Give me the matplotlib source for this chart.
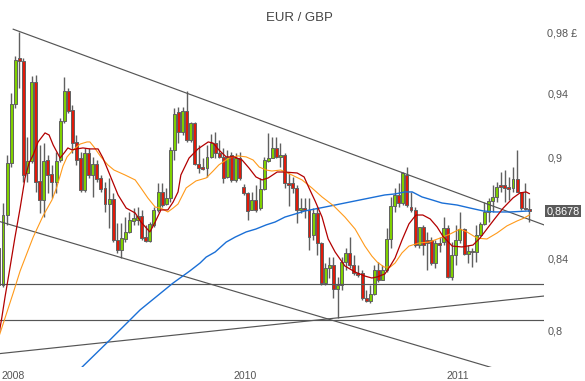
import numpy as np
import matplotlib
matplotlib.use('Agg')
import matplotlib.pyplot as plt
import matplotlib.transforms as mtransforms

plt.rcParams['font.family'] = ['Liberation Sans', 'DejaVu Sans']

# Weekly candles, EUR/GBP (index 0 = first, partly hidden, week)
opens = [0.8463, 0.8253, 0.8655, 0.8967, 0.9334, 0.9631, 0.9612, 0.8906, 0.8979, 0.9475,
         0.8858, 0.8744, 0.8985, 0.8900, 0.8852, 0.8985, 0.9227, 0.9417, 0.9296, 0.9096,
         0.8997, 0.8804, 0.9028, 0.8894, 0.8961, 0.8876, 0.8816, 0.8720, 0.8750, 0.8509,
         0.8452, 0.8515, 0.8556, 0.8620, 0.8626, 0.8649, 0.8526, 0.8503, 0.8597, 0.8685,
         0.8792, 0.8720, 0.8756, 0.9047, 0.9284, 0.9158, 0.9290, 0.9108, 0.9214, 0.8961,
         0.8942, 0.8936, 0.9004, 0.9089, 0.9028, 0.9004, 0.8882, 0.9016, 0.8864, 0.8997,
         0.8822, 0.8786, 0.8685, 0.8744, 0.8697, 0.8810, 0.8979, 0.8997, 0.9059, 0.9004,
         0.9016, 0.8846, 0.8846, 0.8816, 0.8685, 0.8696, 0.8685, 0.8538, 0.8667, 0.8492,
         0.8264, 0.8349, 0.8366, 0.8231, 0.8253, 0.8383, 0.8435, 0.8366, 0.8320, 0.8320,
         0.8180, 0.8163, 0.8203, 0.8337, 0.8281, 0.8337, 0.8515, 0.8708, 0.8774, 0.8726,
         0.8894, 0.8702, 0.8685, 0.8480, 0.8585, 0.8509, 0.8509, 0.8377, 0.8492, 0.8497,
         0.8579, 0.8298, 0.8423, 0.8509, 0.8573, 0.8429, 0.8446, 0.8440, 0.8538, 0.8603,
         0.8673, 0.8738, 0.8762, 0.8834, 0.8834, 0.8822, 0.8816, 0.8870, 0.8792, 0.8696,
         0.8690]
highs = [0.8463, 0.8726, 0.9016, 0.9404, 0.9644, 0.9803, 0.9631, 0.9127, 0.9514, 0.9520,
         0.9077, 0.9089, 0.9016, 0.8955, 0.9035, 0.9246, 0.9507, 0.9437, 0.9328, 0.9139,
         0.9035, 0.9059, 0.9059, 0.9004, 0.8985, 0.8894, 0.8852, 0.8876, 0.8786, 0.8609,
         0.8609, 0.8643, 0.8673, 0.8696, 0.8702, 0.8685, 0.8597, 0.8614, 0.8702, 0.8846,
         0.8846, 0.8816, 0.9065, 0.9309, 0.9315, 0.9315, 0.9417, 0.9221, 0.9221, 0.9077,
         0.8997, 0.9077, 0.9146, 0.9158, 0.9108, 0.9059, 0.9047, 0.9035, 0.9028, 0.9035,
         0.8840, 0.8792, 0.8792, 0.8834, 0.8876, 0.9004, 0.9152, 0.9127, 0.9127, 0.9089,
         0.9028, 0.8906, 0.8882, 0.8834, 0.8756, 0.8756, 0.8756, 0.8696, 0.8702, 0.8497,
         0.8377, 0.8411, 0.8411, 0.8298, 0.8411, 0.8463, 0.8526, 0.8423, 0.8366, 0.8337,
         0.8225, 0.8253, 0.8366, 0.8383, 0.8366, 0.8579, 0.8762, 0.8816, 0.8846, 0.8912,
         0.8942, 0.8792, 0.8702, 0.8585, 0.8597, 0.8556, 0.8526, 0.8509, 0.8526, 0.8643,
         0.8597, 0.8497, 0.8597, 0.8673, 0.8579, 0.8480, 0.8463, 0.8597, 0.8614, 0.8732,
         0.8756, 0.8834, 0.8852, 0.8912, 0.8924, 0.8882, 0.8942, 0.9047, 0.8792, 0.8846,
         0.8756]
lows = [0.8242, 0.8242, 0.8597, 0.8942, 0.9309, 0.9437, 0.8852, 0.8852, 0.8967, 0.8792,
        0.8667, 0.8643, 0.8786, 0.8756, 0.8786, 0.8973, 0.9214, 0.9277, 0.9028, 0.8955,
        0.8792, 0.8792, 0.8876, 0.8762, 0.8852, 0.8792, 0.8673, 0.8579, 0.8497, 0.8435,
        0.8406, 0.8497, 0.8550, 0.8597, 0.8597, 0.8509, 0.8497, 0.8497, 0.8585, 0.8673,
        0.8702, 0.8714, 0.8732, 0.8985, 0.9089, 0.9139, 0.9096, 0.9096, 0.8955, 0.8906,
        0.8924, 0.8882, 0.8997, 0.8997, 0.8997, 0.8846, 0.8876, 0.8852, 0.8852, 0.8864,
        0.8774, 0.8626, 0.8685, 0.8673, 0.8685, 0.8804, 0.8973, 0.8997, 0.8997, 0.8942,
        0.8816, 0.8708, 0.8786, 0.8609, 0.8667, 0.8637, 0.8452, 0.8509, 0.8423, 0.8253,
        0.8253, 0.8292, 0.8180, 0.8070, 0.8225, 0.8337, 0.8349, 0.8309, 0.8298, 0.8169,
        0.8158, 0.8152, 0.8197, 0.8270, 0.8281, 0.8326, 0.8463, 0.8673, 0.8702, 0.8714,
        0.8702, 0.8673, 0.8469, 0.8463, 0.8423, 0.8337, 0.8366, 0.8349, 0.8440, 0.8480,
        0.8292, 0.8281, 0.8366, 0.8492, 0.8423, 0.8377, 0.8354, 0.8383, 0.8532, 0.8597,
        0.8614, 0.8673, 0.8732, 0.8792, 0.8732, 0.8744, 0.8792, 0.8792, 0.8685, 0.8685,
        0.8614]
closes = [0.8253, 0.8655, 0.8967, 0.9334, 0.9618, 0.9612, 0.8894, 0.8979, 0.9475, 0.8852,
          0.8744, 0.8979, 0.8894, 0.8852, 0.8979, 0.9227, 0.9417, 0.9290, 0.9089, 0.8985,
          0.8804, 0.9028, 0.8894, 0.8961, 0.8870, 0.8810, 0.8720, 0.8750, 0.8509, 0.8452,
          0.8520, 0.8556, 0.8626, 0.8637, 0.8649, 0.8520, 0.8503, 0.8603, 0.8685, 0.8792,
          0.8714, 0.8756, 0.9047, 0.9271, 0.9158, 0.9290, 0.9108, 0.9214, 0.8961, 0.8936,
          0.8930, 0.9004, 0.9089, 0.9028, 0.9004, 0.8876, 0.9004, 0.8864, 0.8997, 0.8876,
          0.8786, 0.8679, 0.8744, 0.8685, 0.8810, 0.8985, 0.8997, 0.9059, 0.9004, 0.9016,
          0.8846, 0.8834, 0.8816, 0.8685, 0.8696, 0.8685, 0.8526, 0.8667, 0.8492, 0.8264,
          0.8349, 0.8366, 0.8231, 0.8253, 0.8383, 0.8435, 0.8366, 0.8320, 0.8309, 0.8180,
          0.8163, 0.8203, 0.8337, 0.8281, 0.8337, 0.8515, 0.8708, 0.8774, 0.8726, 0.8906,
          0.8714, 0.8685, 0.8480, 0.8585, 0.8480, 0.8492, 0.8377, 0.8492, 0.8480, 0.8579,
          0.8298, 0.8423, 0.8509, 0.8573, 0.8429, 0.8446, 0.8440, 0.8538, 0.8603, 0.8673,
          0.8738, 0.8762, 0.8822, 0.8822, 0.8816, 0.8810, 0.8870, 0.8792, 0.8696, 0.8690,
          0.8678]

# Moving averages at (week index, price)
ma_short_x = [0, 0.7, 1.5, 2.7, 3.9, 5.2, 6.4, 7.4, 8.4, 9.6, 11.3, 12.3, 13.3, 15.0, 16.2, 16.9,
              17.9, 19.1, 20.6, 22.3, 24.3, 25.5, 27.2, 29.2, 31.2, 33.4, 34.8, 37.0, 38.3, 39.7,
              41.4, 42.7, 43.9, 44.6, 46.6, 48.8, 51.3, 52.5, 53.9, 55.7, 57.6, 59.6, 61.3, 63.0,
              64.5, 66.0, 68.2, 69.9, 73.1, 74.8, 76.0, 77.5, 79.2, 80.7, 82.4, 84.8, 87.3, 89.7,
              91.4, 92.7, 94.6, 95.9, 97.1, 98.8, 100.5, 102.2, 103.9, 105.7, 107.4, 108.8, 111.1,
              113.5, 116.2, 117.9, 119.6, 121.3, 123.6, 126.0, 127.7, 129.2, 130.0]
ma_short_y = [0.7980, 0.8070, 0.8186, 0.8349, 0.8520, 0.8696, 0.8876, 0.8967, 0.9016, 0.9096,
              0.9152, 0.9139, 0.9077, 0.8997, 0.9035, 0.9059, 0.9047, 0.9053, 0.9059, 0.9053,
              0.9053, 0.8997, 0.8894, 0.8774, 0.8696, 0.8667, 0.8614, 0.8556, 0.8614, 0.8685,
              0.8685, 0.8732, 0.8792, 0.8894, 0.8997, 0.9053, 0.9096, 0.9089, 0.9047, 0.9004,
              0.9004, 0.8985, 0.8936, 0.8882, 0.8864, 0.8876, 0.8912, 0.8912, 0.8906, 0.8882,
              0.8816, 0.8738, 0.8643, 0.8515, 0.8440, 0.8360, 0.8326, 0.8303, 0.8292, 0.8298,
              0.8315, 0.8360, 0.8406, 0.8509, 0.8603, 0.8655, 0.8655, 0.8632, 0.8585, 0.8532,
              0.8474, 0.8469, 0.8480, 0.8520, 0.8573, 0.8626, 0.8696, 0.8756, 0.8786, 0.8792,
              0.8782]
ma_mid_x = [0, 0.7, 3.5, 5.2, 8.4, 10.8, 13.0, 14.2, 15.7, 16.7, 18.2, 19.9, 21.6, 22.3, 23.3,
            25.0, 26.7, 28.2, 30.9, 33.4, 34.8, 36.5, 38.3, 39.7, 41.4, 42.7, 43.9, 45.9, 48.3,
            50.8, 52.5, 53.9, 56.4, 58.6, 60.6, 62.3, 63.8, 65.5, 66.9, 69.1, 71.8, 74.3, 76.7,
            79.2, 82.1, 84.8, 87.3, 89.7, 91.4, 92.7, 94.4, 95.9, 97.1, 98.8, 100.5, 103.0,
            105.4, 108.1, 110.6, 113.0, 114.7, 117.2, 119.6, 122.1, 124.5, 127.0, 128.7, 130.0]
ma_mid_y = [0.7968, 0.8015, 0.8208, 0.8332, 0.8526, 0.8649, 0.8744, 0.8822, 0.8948, 0.9004,
            0.9047, 0.9083, 0.9096, 0.9096, 0.9065, 0.9004, 0.8955, 0.8924, 0.8894, 0.8864,
            0.8816, 0.8756, 0.8702, 0.8696, 0.8673, 0.8696, 0.8720, 0.8816, 0.8858, 0.8876,
            0.8918, 0.8955, 0.8997, 0.9010, 0.9004, 0.8985, 0.8942, 0.8924, 0.8918, 0.8924,
            0.8894, 0.8864, 0.8816, 0.8762, 0.8708, 0.8643, 0.8573, 0.8474, 0.8417, 0.8383,
            0.8354, 0.8354, 0.8377, 0.8435, 0.8474, 0.8492, 0.8497, 0.8520, 0.8544, 0.8573,
            0.8556, 0.8520, 0.8515, 0.8550, 0.8591, 0.8620, 0.8637, 0.8655]
ma_long_x = [17.4, 20.4, 27.2, 34.6, 42.7, 46.8, 49.3, 50.8, 53.0, 55.7, 57.9, 60.6, 63.0, 65.5,
             67.7, 70.1, 72.6, 75.0, 79.9, 84.8, 89.7, 94.6, 97.1, 99.5, 101.3, 103.7, 106.2,
             108.6, 112.3, 115.5, 118.7, 121.6, 125.3, 130.0]
ma_long_y = [0.7747, 0.7805, 0.7950, 0.8114, 0.8264, 0.8332, 0.8377, 0.8411, 0.8440, 0.8497,
             0.8526, 0.8556, 0.8573, 0.8597, 0.8614, 0.8643, 0.8661, 0.8679, 0.8702, 0.8726,
             0.8750, 0.8774, 0.8780, 0.8792, 0.8792, 0.8762, 0.8744, 0.8726, 0.8714, 0.8696,
             0.8679, 0.8673, 0.8673, 0.8679]

# Drawn trend lines: (week index, price) end points
trend_top = ([3.5, 133.6], [0.9821, 0.8597])
trend_channel = ([0.0, 122.0], [0.8618, 0.7794])
trend_rising = ([0.0, 133.6], [0.7876, 0.8191])
support_levels = [0.8257, 0.8057]

price_ticks = [0.98, 0.94, 0.9, 0.84, 0.8]
price_labels = ['0,98 £', '0,94', '0,9', '0,84', '0,8']
last_price = 0.8678
year_ticks = [0.75, 57.4, 109.6]
year_labels = ['2008', '2010', '2011']

GREEN = '#7fd000'
RED = '#e01a0a'
EDGE = '#606060'
LINE = '#555555'


def draw_candles(ax):
    idx = np.arange(len(opens))
    o = np.array(opens)
    c = np.array(closes)
    # wicks first, bodies on top
    ax.vlines(idx, lows, highs, color=EDGE, linewidth=1.0, zorder=2)
    colors = np.where(c > o, GREEN, np.where(c < o, RED, '#9a9a9a'))
    bottom = np.minimum(o, c)
    height = np.maximum(np.abs(c - o), 0.0004)
    ax.bar(idx, height, bottom=bottom, width=0.72, color=colors,
           edgecolor=EDGE, linewidth=0.7, zorder=3)


fig = plt.figure(figsize=(5.85, 3.81), dpi=100)
ax = fig.add_axes([0, 14 / 381, 544 / 585, 367 / 381])

draw_candles(ax)

# trend lines and support lines
for xs, ys in (trend_top, trend_channel, trend_rising):
    ax.plot(xs, ys, color=LINE, linewidth=0.85, zorder=4)
for lvl in support_levels:
    ax.axhline(lvl, color=LINE, linewidth=0.85, zorder=4)

# moving averages
ax.plot(ma_long_x, ma_long_y, color='#1a6fd6', linewidth=1.0, zorder=5)
ax.plot(ma_mid_x, ma_mid_y, color='#ff9a1a', linewidth=0.8, zorder=5)
ax.plot(ma_short_x, ma_short_y, color='#b30000', linewidth=0.9, zorder=6)

ax.set_yscale('log')
ax.set_xlim(0.265, 133.6)
ax.set_ylim(0.7805, 1.0018)

ax.yaxis.tick_right()
ax.yaxis.set_minor_locator(matplotlib.ticker.NullLocator())
ax.set_yticks(price_ticks)
ax.set_yticklabels(price_labels)
ax.tick_params(axis='y', length=0, pad=2.5, labelsize=7.8, labelcolor='#555555')

ax.set_xticks(year_ticks)
ax.set_xticklabels(year_labels)
ax.tick_params(axis='x', length=0, pad=3, labelsize=7.6, labelcolor='#555555')
for lab in ax.get_xticklabels():
    lab.set_horizontalalignment('left')

for s in ax.spines.values():
    s.set_visible(False)

# last price box on the right
trans = mtransforms.blended_transform_factory(ax.transAxes, ax.transData)
ax.text(1.0045, last_price, '0,8678', transform=trans, ha='left', va='center',
        fontsize=7.8, color='white', clip_on=False,
        bbox=dict(boxstyle='square,pad=0.12', facecolor='#5a5a5a', edgecolor='none'))

fig.text(299 / 585, 1 - 18 / 381, 'EUR / GBP', ha='center', va='center',
         fontsize=9.5, color='#444444')

fig.savefig('out.png', dpi=100)
